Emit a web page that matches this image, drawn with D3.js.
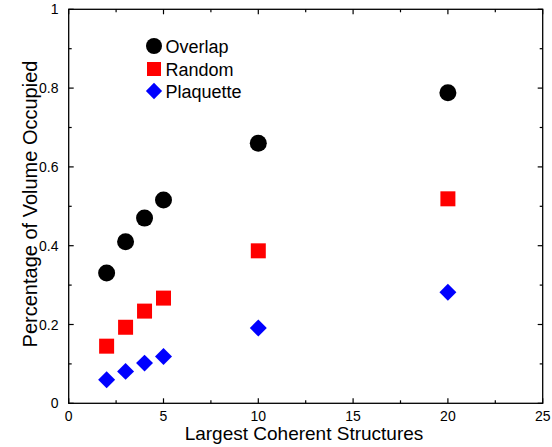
<!DOCTYPE html>
<html><head><meta charset="utf-8">
<script src="https://cdn.jsdelivr.net/npm/d3@7"></script>
<style>body{margin:0;background:#fff}svg{display:block}text{font-family:"Liberation Sans",Arial,sans-serif;fill:#000}</style>
</head><body>
<svg id="c" width="552" height="447"></svg>
<script>
const xs = [2, 3, 4, 5, 10, 20];
const overlap = [0.331, 0.410, 0.470, 0.516, 0.660, 0.788];
const random = [0.145, 0.193, 0.234, 0.267, 0.387, 0.519];
const plaquette = [0.060, 0.081, 0.102, 0.119, 0.191, 0.282];
const seriesNames = ["Overlap", "Random", "Plaquette"];
const xTicks = [0, 5, 10, 15, 20, 25];
const yTicks = [0, 0.2, 0.4, 0.6, 0.8, 1];
const xMinor = [2.5, 7.5, 12.5, 17.5, 22.5];
const yMinor = [0.1, 0.3, 0.5, 0.7, 0.9];

const svg = d3.select("#c");
const L = 68.7, R = 542.7, T = 9.3, B = 403.3;
const x = d3.scaleLinear().domain([0, 25]).range([L, R]);
const y = d3.scaleLinear().domain([0, 1]).range([B, T]);

svg.append("rect").attr("x", L).attr("y", T).attr("width", R - L).attr("height", B - T)
  .attr("fill", "none").attr("stroke", "#000").attr("stroke-width", 1.3);

const g = svg.append("g").attr("stroke", "#000").attr("stroke-width", 1.2);
function tick(x1, y1, x2, y2) { g.append("line").attr("x1", x1).attr("y1", y1).attr("x2", x2).attr("y2", y2); }
xTicks.forEach(v => { tick(x(v), B, x(v), B - 5); tick(x(v), T, x(v), T + 5); });
xMinor.forEach(v => { tick(x(v), B, x(v), B - 3); tick(x(v), T, x(v), T + 3); });
yTicks.forEach(v => { tick(L, y(v), L + 5, y(v)); tick(R, y(v), R - 5, y(v)); });
yMinor.forEach(v => { tick(L, y(v), L + 3, y(v)); tick(R, y(v), R - 3, y(v)); });

svg.selectAll(".xt").data(xTicks).enter().append("text")
  .attr("x", d => x(d)).attr("y", 420.5).attr("text-anchor", "middle")
  .attr("font-size", 14).text(d => d);
svg.selectAll(".yt").data(yTicks).enter().append("text")
  .attr("x", 58.5).attr("y", d => y(d) + 5).attr("text-anchor", "end")
  .attr("font-size", 14).text(d => d);

svg.append("text").attr("x", 304).attr("y", 439.5).attr("text-anchor", "middle")
  .attr("font-size", 19).text("Largest Coherent Structures");
svg.append("text").attr("transform", "translate(37,204) rotate(-90)").attr("text-anchor", "middle")
  .attr("font-size", 20).text("Percentage of Volume Occupied");

const sym = [
  { type: d3.symbolCircle, size: Math.PI * 8.5 * 8.5, color: "#000", rot: 0 },
  { type: d3.symbolSquare, size: 15 * 15, color: "#f00", rot: 0 },
  { type: d3.symbolSquare, size: 12 * 12, color: "#00f", rot: 45 }
];
const data = [overlap, random, plaquette];
data.forEach((vals, i) => {
  const s = d3.symbol().type(sym[i].type).size(sym[i].size);
  svg.selectAll(".p" + i).data(vals).enter().append("path")
    .attr("transform", (d, j) => `translate(${x(xs[j])},${y(d)}) rotate(${sym[i].rot})`)
    .attr("d", s).attr("fill", sym[i].color);
});

const ly = [46, 69, 91];
seriesNames.forEach((n, i) => {
  const legSize = [Math.PI * 8 * 8, 14 * 14, 11.5 * 11.5][i];
  svg.append("path").attr("transform", `translate(154,${ly[i]}) rotate(${sym[i].rot})`)
    .attr("d", d3.symbol().type(sym[i].type).size(legSize)).attr("fill", sym[i].color);
  svg.append("text").attr("x", 165.5).attr("y", ly[i] + 6.5).attr("font-size", 18).text(n);
});
</script>
</body></html>
